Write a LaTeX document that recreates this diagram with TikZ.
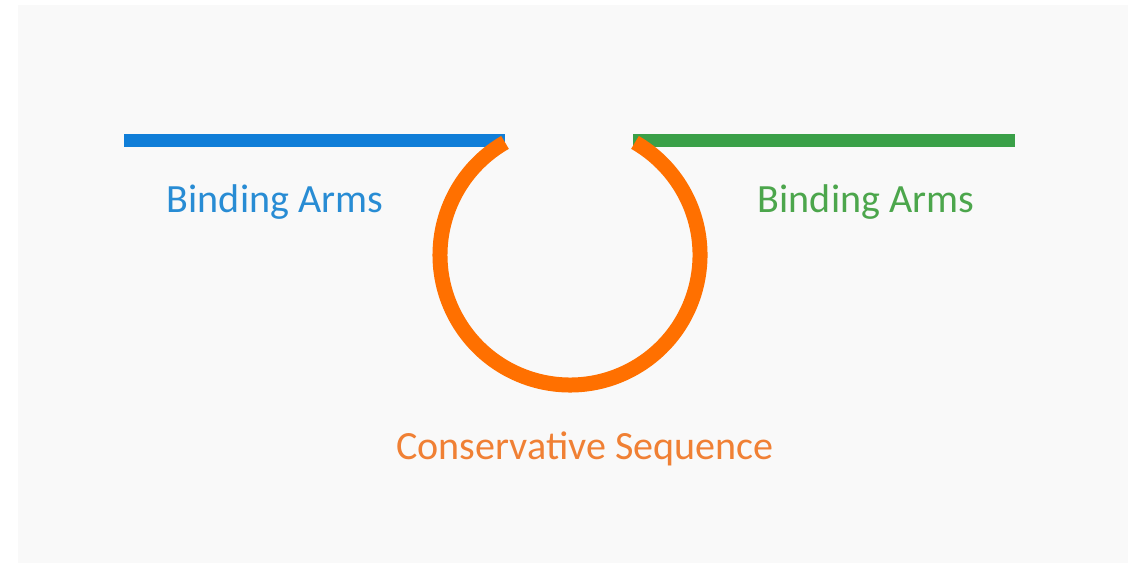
\documentclass[tikz,border=0pt]{standalone}
\usepackage{fontspec}
\setmainfont{Carlito}
\definecolor{panelgray}{RGB}{249,249,249}
\definecolor{armblue}{RGB}{16,126,216}
\definecolor{labelblue}{RGB}{40,140,212}
\definecolor{armgreen}{RGB}{58,160,72}
\definecolor{labelgreen}{RGB}{76,166,76}
\definecolor{loopor}{RGB}{255,112,0}
\definecolor{labelor}{RGB}{240,128,52}
\tikzset{
  arm/.style={line width=.26cm,line cap=butt},
  loopline/.style={line width=.30cm,line cap=butt,draw=loopor},
  tag/.style={anchor=base,font=\fontsize{22.8}{27}\selectfont}
}
\begin{document}
\begin{tikzpicture}[x=1cm,y=1cm]
    % page and panel
    \fill[white] (0,0) rectangle (22.70,11.26);
    \fill[panelgray] (.36,0) rectangle (22.56,11.16);
    % the two arms
    \coordinate (blueL) at (2.48,8.44);
    \coordinate (blueR) at (10.10,8.44);
    \coordinate (greenL) at (12.66,8.44);
    \coordinate (greenR) at (20.30,8.44);
    \draw[arm,armblue] (blueL) -- (blueR);
    \draw[arm,armgreen] (greenL) -- (greenR);
    % open loop between them
    \coordinate (loop) at (11.40,6.16);
    \draw[loopline] ([shift={(120:2.60)}]loop) arc[start angle=120,end angle=420,radius=2.60];
    \node[tag,text=labelblue] (leftarm) at (5.50,7.00) {Binding Arms};
    \node[tag,text=labelgreen] (rightarm) at (17.32,7.00) {Binding Arms};
    \node[tag,text=labelor] (conserved) at (11.70,2.08) {Conservative Sequence};
  \end{tikzpicture}
\end{document}
